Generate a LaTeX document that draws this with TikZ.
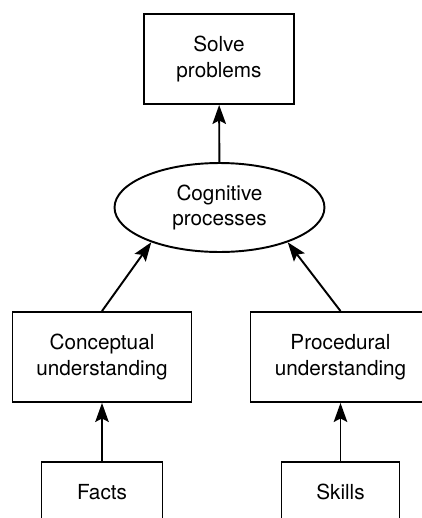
\documentclass[tikz,border=0pt]{standalone}
\usepackage{fontspec}
\setmainfont{TeX Gyre Heros}
\usetikzlibrary{arrows.meta,shapes.geometric}

\begin{document}
\begin{tikzpicture}[x=0.02cm, y=-0.02cm, >={Stealth[length=0.38cm,width=0.27cm,inset=0.07cm]},
      box/.style={rectangle,draw=black,line width=1.1pt,align=center,inner sep=0pt,
        font=\fontsize{11.8}{14.5}\selectfont},
      process/.style={ellipse,draw=black,line width=1.1pt,align=center,inner sep=0pt,
        minimum width=4.2cm,minimum height=1.78cm,font=\fontsize{11.8}{14.5}\selectfont}]
    \clip (0,0) rectangle (422,518);
    \node[box,minimum width=3cm,minimum height=1.8cm] at (219,59) (solve) {Solve\\problems};
    \node[process] at (219.5,207.5) (cog) {Cognitive\\processes};
    \node[box,minimum width=3.58cm,minimum height=1.8cm] at (102,357) (concept) {Conceptual\\understanding};
    \node[box,minimum width=3.6cm,minimum height=1.8cm] at (340.5,357) (proc) {Procedural\\understanding};
    \node[box,minimum width=2.42cm,minimum height=1.2cm] at (102,492) (facts) {Facts};
    \node[box,minimum width=2.36cm,minimum height=1.2cm] at (340.5,492) (skills) {Skills};
    \draw[line width=1.1pt,->] (cog) -- (solve);
    \draw[line width=1.1pt,->] (concept.north) -- (cog.207);
    \draw[line width=1.1pt,->] (proc.north) -- (cog.333);
    \draw[line width=1.1pt,->] (facts) -- (concept);
    \draw[line width=1.1pt,->] (skills) -- (proc);
\end{tikzpicture}
\end{document}
